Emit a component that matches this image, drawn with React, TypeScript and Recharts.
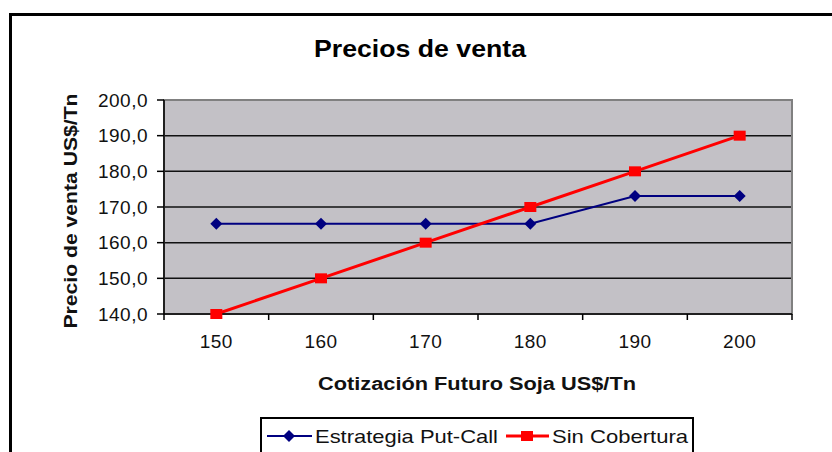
import React from "react";
import { CartesianGrid, Label, Line, LineChart, ReferenceArea, XAxis, YAxis } from "recharts";

const futuros = [150, 160, 170, 180, 190, 200];
const putCall = [165.3, 165.3, 165.3, 165.3, 173.1, 173.1];
const sinCobertura = [140, 150, 160, 170, 180, 190];
const yTicks = [140, 150, 160, 170, 180, 190, 200];
const xTicks = [145, 150, 155, 160, 165, 170, 175, 180, 185, 190, 195, 200, 205];

const data = futuros.map((x, i) => ({ x, putCall: putCall[i], sinCobertura: sinCobertura[i] }));

const FONT = "'Liberation Sans', Arial, sans-serif";
const BLUE = "#000080";
const RED = "#FF0000";
const INK = "#111";

const Diamond = ({ cx, cy, fill }: any) => (
    <path d={`M${cx},${cy - 6}L${cx + 6},${cy}L${cx},${cy + 6}L${cx - 6},${cy}Z`} fill={fill} />
);

const Square = ({ cx, cy, fill }: any) => (
    <rect x={cx - 6} y={cy - 5} width={12} height={10} fill={fill} />
);

const XTick = (props: any) => {
    const { x, y, payload } = props;
    const v = payload.value;
    if (v % 10 === 5) {
        return <line x1={x} y1={y - 6} x2={x} y2={y} stroke="#000" strokeWidth={1.5} />;
    }
    return (
        <text x={x} y={y + 15} dy="0.71em" textAnchor="middle" fontSize={19} fontFamily={FONT} fill={INK} letterSpacing={0.5}>
            {v}
        </text>
    );
};

const fmt = (v: number) => v.toFixed(1).replace(".", ",");

export default function App() {
    return (
        <div style={{ position: "absolute", left: 0, top: 0, width: 832, height: 452, overflow: "hidden", background: "#fff" }}>
            <div style={{ position: "absolute", left: 9, top: 13, width: 900, height: 500, border: "3px solid #000" }} />
            <svg style={{ position: "absolute", left: 0, top: 0 }} width={832} height={80}>
                <text x={420} y={57} textAnchor="middle" fontSize={23} fontWeight="bold" fontFamily={FONT} fill="#000" textLength={212} lengthAdjust="spacingAndGlyphs">
                    Precios de venta
                </text>
            </svg>
            <div style={{ position: "absolute", left: 0, top: 0 }}>
                <LineChart width={832} height={452} data={data} margin={{ top: 100, right: 40, bottom: 98, left: 84 }}>
                    <CartesianGrid vertical={false} fill="#C3C1C6" stroke="#111" strokeWidth={1.5} />
                    <ReferenceArea x1={145} x2={205} y1={140} y2={200} stroke="#808080" strokeWidth={2} fill="none" ifOverflow="visible" />
                    <XAxis
                        dataKey="x"
                        type="number"
                        domain={[145, 205]}
                        ticks={xTicks}
                        interval={0}
                        height={40}
                        tickLine={false}
                        tickSize={6}
                        tickMargin={0}
                        tick={<XTick />}
                        axisLine={{ stroke: "#000", strokeWidth: 1.5 }}
                    >
                        <Label
                            content={() => (
                                <text x={477} y={390} textAnchor="middle" fontSize={18} fontWeight="bold" fontFamily={FONT} fill={INK} textLength={318} lengthAdjust="spacingAndGlyphs">
                                    Cotización Futuro Soja US$/Tn
                                </text>
                            )}
                        />
                    </XAxis>
                    <YAxis
                        type="number"
                        domain={[140, 200]}
                        ticks={yTicks}
                        interval={0}
                        width={80}
                        tickSize={7}
                        tickMargin={9}
                        tickFormatter={fmt}
                        tick={{ fill: INK, fontSize: 19, fontFamily: FONT, letterSpacing: 0.5 }}
                        tickLine={{ stroke: "#000", strokeWidth: 1.5 }}
                        axisLine={{ stroke: "#000", strokeWidth: 1.5 }}
                    >
                        <Label
                            content={() => (
                                <text x={77} y={211} transform="rotate(-90 77 211)" textAnchor="middle" fontSize={19} fontWeight="bold" fontFamily={FONT} fill={INK} textLength={235} lengthAdjust="spacingAndGlyphs">
                                    Precio de venta US$/Tn
                                </text>
                            )}
                        />
                    </YAxis>
                    <Line
                        dataKey="putCall"
                        stroke={BLUE}
                        strokeWidth={2}
                        isAnimationActive={false}
                        dot={(p: any) => <Diamond key={`d${p.index}`} cx={p.cx} cy={p.cy} fill={BLUE} />}
                    />
                    <Line
                        dataKey="sinCobertura"
                        stroke={RED}
                        strokeWidth={3}
                        isAnimationActive={false}
                        dot={(p: any) => <Square key={`s${p.index}`} cx={p.cx} cy={p.cy} fill={RED} />}
                    />
                </LineChart>
            </div>
            <svg style={{ position: "absolute", left: 0, top: 0 }} width={832} height={452}>
                <rect x={261} y={418} width={432} height={60} fill="#fff" stroke="#000" strokeWidth={2} />
                <line x1={267} y1={436} x2={312} y2={436} stroke={BLUE} strokeWidth={2} />
                <Diamond cx={289} cy={436} fill={BLUE} />
                <text x={315} y={443} fontSize={19} fontFamily={FONT} fill={INK} textLength={183} lengthAdjust="spacingAndGlyphs">
                    Estrategia Put-Call
                </text>
                <line x1={506} y1={436} x2={549} y2={436} stroke={RED} strokeWidth={3} />
                <Square cx={527} cy={436} fill={RED} />
                <text x={552} y={443} fontSize={19} fontFamily={FONT} fill={INK} textLength={136} lengthAdjust="spacingAndGlyphs">
                    Sin Cobertura
                </text>
            </svg>
        </div>
    );
}
